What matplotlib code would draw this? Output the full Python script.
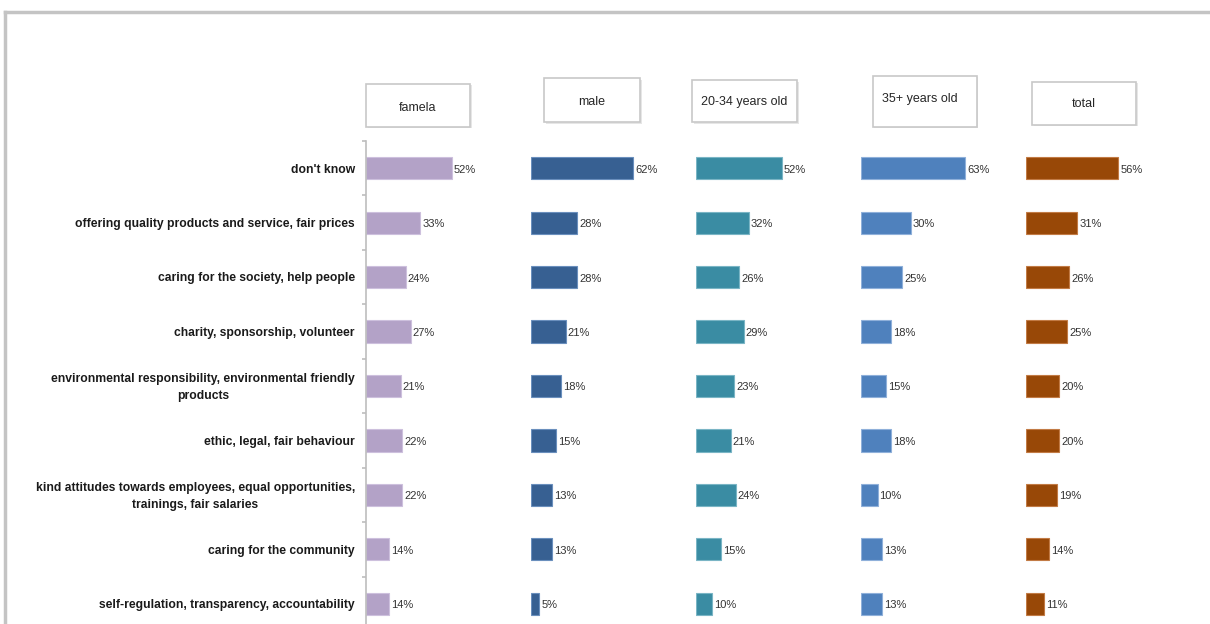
import matplotlib
matplotlib.use("Agg")
import matplotlib.pyplot as plt
from matplotlib.patches import Rectangle
from matplotlib.lines import Line2D

categories = [
    "don't know",
    "offering quality products and service, fair prices",
    "caring for the society, help people",
    "charity, sponsorship, volunteer",
    "environmental responsibility, environmental friendly\nproducts",
    "ethic, legal, fair behaviour",
    "kind attitudes towards employees, equal opportunities,\ntrainings, fair salaries",
    "caring for the community",
    "self-regulation, transparency, accountability",
]
groups = ["famela", "male", "20-34 years old", "35+ years old", "total"]
famela = [52, 33, 24, 27, 21, 22, 22, 14, 14]
male = [62, 28, 28, 21, 18, 15, 13, 13, 5]
age_20_34 = [52, 32, 26, 29, 23, 21, 24, 15, 10]
age_35_plus = [63, 30, 25, 18, 15, 18, 10, 13, 13]
total = [56, 31, 26, 25, 20, 20, 19, 14, 11]
series = [famela, male, age_20_34, age_35_plus, total]
colors = ["#b3a2c7", "#376092", "#3a8ca3", "#4f81bd", "#984807"]
edges = ["#cdc0dd", "#6a8fbd", "#7ab5c5", "#8fb0da", "#c27b45"]

plt.rcParams["font.family"] = ["Liberation Sans", "DejaVu Sans"]

W, H = 1210, 624
fig = plt.figure(figsize=(W / 100, H / 100), dpi=100)

# outer frame (top and left)
fig.add_artist(Line2D([5 / W, 1.0], [1 - 12 / H, 1 - 12 / H], color="#c4c4c4", lw=2.5))
fig.add_artist(Line2D([5 / W, 5 / W], [1 - 12 / H, 0], color="#c4c4c4", lw=2.5))

panel_x = [366, 531, 696, 861, 1026]
panel_w = 160
px_per_pct = 1.65
top_px, bot_px = 141, 631
n = len(categories)

for i, (vals, col, ec) in enumerate(zip(series, colors, edges)):
    ax = fig.add_axes([panel_x[i] / W, 1 - bot_px / H, panel_w / W, (bot_px - top_px) / H])
    ax.barh(range(n), vals, height=0.41, color=col, edgecolor=ec, linewidth=0.8)
    ax.set_xlim(0, panel_w / px_per_pct)
    ax.set_ylim(n - 0.5, -0.5)
    for j, v in enumerate(vals):
        ax.annotate(f"{v}%", (v, j), xytext=(1.5, -1), textcoords="offset points",
                    va="center", ha="left", fontsize=8, color="#333333")
    ax.set_xticks([])
    for s in ["top", "right", "bottom"]:
        ax.spines[s].set_visible(False)
    if i == 0:
        ax.spines["left"].set_color("#bdbdbd")
        ax.spines["left"].set_linewidth(1.2)
        ax.set_yticks([k - 0.5 for k in range(n + 1)])
        ax.set_yticklabels([])
        ax.tick_params(axis="y", length=3, color="#bdbdbd", width=1.2)
        for j, c in enumerate(categories):
            ax.annotate(c, (0, j), xytext=(-8, -1), textcoords="offset points",
                        ha="right", va="center", multialignment="center",
                        fontsize=8.7, fontweight="bold", color="#1a1a1a",
                        annotation_clip=False, linespacing=1.55)
    else:
        ax.spines["left"].set_visible(False)
        ax.set_yticks([])

# header boxes (left, top, right, bottom in px) and text anchor
boxes = [(366, 84, 470, 127), (544, 78, 640, 122), (692, 80, 797, 122),
         (873, 76, 977, 127), (1032, 82, 1136, 125)]
text_pos = [(418, 108, "center"), (592, 102, "center"), (744, 102, "center"),
            (882, 99, "left"), (1084, 104, "center")]
for (l, t, r, b), (tx, ty, ha), g in zip(boxes, text_pos, groups):
    fig.add_artist(Rectangle((l / W + 1.5 / W, 1 - b / H - 1.5 / H), (r - l) / W, (b - t) / H,
                             facecolor="#e6e6e6", edgecolor="none"))
    fig.add_artist(Rectangle((l / W, 1 - b / H), (r - l) / W, (b - t) / H,
                             facecolor="white", edgecolor="#c8c8c8", linewidth=1.2))
    fig.text(tx / W, 1 - ty / H, g, ha=ha, va="center", fontsize=9, color="#262626")

fig.savefig("out.png", dpi=100)
